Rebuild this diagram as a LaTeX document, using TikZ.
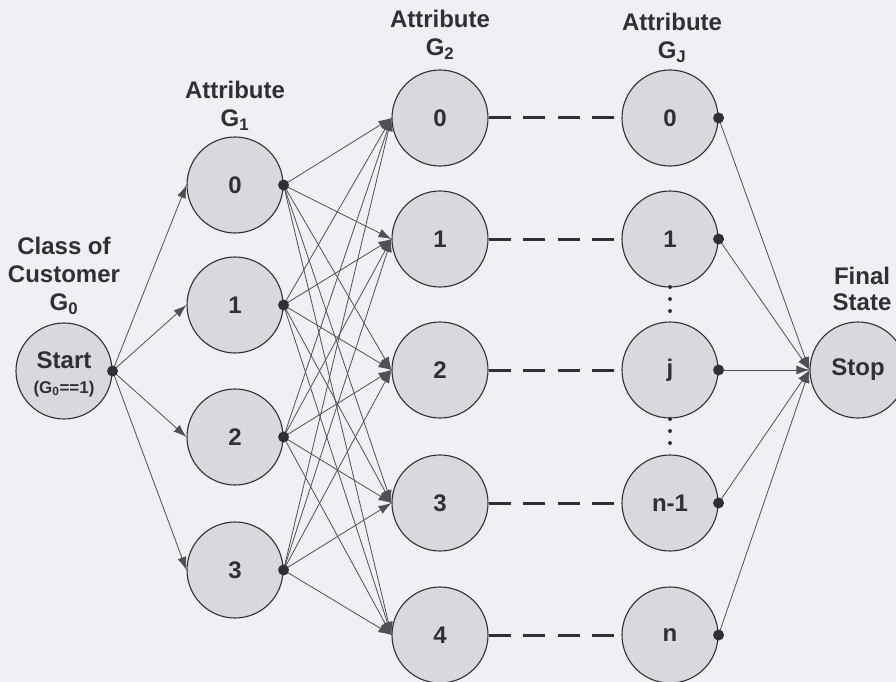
\documentclass[tikz,border=0pt]{standalone}
\usepackage{fontspec}
\setmainfont{Liberation Sans}
\usepackage{tikz}
\usetikzlibrary{arrows.meta}
\usetikzlibrary{positioning}
\definecolor{mback}{RGB}{238, 240, 244}
\definecolor{mfill}{RGB}{216, 217, 220}
\definecolor{mline}{RGB}{80, 80, 84}
\definecolor{mtext}{RGB}{48, 48, 52}
\tikzset{state/.style = {draw = mtext, line width = 1.1, fill = mfill, circle,
    inner sep = 0, minimum size = 96, text = mtext,
    font = \fontsize{24}{28}\selectfont\bfseries}}
\tikzset{circ/.style = {fill = mtext, circle, inner sep = 0, minimum size = 11}}
\tikzset{arr/.style = {draw = mline, line width = 0.8, -{Latex[length = 13, width = 9]}}}
\tikzset{link/.style = {draw = mtext, line width = 3, dash pattern = on 22 off 12.5}}
\tikzset{title/.style = {align = center, text = mtext, inner sep = 0,
    font = \fontsize{24}{28}\selectfont\bfseries}}

\begin{document}
\begin{tikzpicture}[x = 1pt, y = -1pt]
    \fill [mback] (0, 0) rectangle (896, 682);
    \useasboundingbox (0, 0) rectangle (896, 682);

    % start and stop
    \node [state] (start) at (64, 371) {};
    \node [text = mtext, font = \fontsize{24}{28}\selectfont\bfseries] (starttext) at (64, 360) {Start};
    \node [text = mtext, font = \fontsize{17}{20}\selectfont\bfseries] (startsub) at (64, 389) {(G\textsubscript{0}==1)};
    \node [state] (stop) at (858, 370) {Stop};

    % columns
    \foreach \i/\y in {0/185, 1/305, 2/437, 3/570} {
      \node [state] (a\i) at (235, \y) {\i};
    }
    \foreach \i/\y in {0/118, 1/239, 2/370, 3/503, 4/635} {
      \node [state] (b\i) at (440, \y) {\i};
    }
    \foreach \i/\t/\y in {0/0/118, 1/1/239, 2/j/370, 3/n-1/503, 4/n/635} {
      \node [state] (c\i) at (670, \y) {\t};
    }

    % edges
    \foreach \i in {0,...,3} {
      \draw [arr] (start.east) -- (a\i.west);
      \foreach \k in {0,...,4} {
        \draw [arr] (a\i.east) -- (b\k.west);
      }
    }
    \foreach \k in {0,...,4} {
      \draw [link] (b\k.east) -- (c\k.west);
      \draw [arr] (c\k.east) -- (stop.west);
    }

    % dots
    \node [circ] (startdot) at (start.east) {};
    \foreach \i in {0,...,3} {
      \node [circ] (adot\i) at (a\i.east) {};
    }
    \foreach \k in {0,...,4} {
      \node [circ] (cdot\k) at (c\k.east) {};
    }
    \foreach \y in {287, 299, 311, 419, 431, 443} {
      \fill [mtext] (670, \y) circle (2);
    }

    % titles
    \node [title] (t0) at (64, 276) {Class of\\Customer\\G\textsubscript{0}};
    \node [title] (t1) at (235, 106) {Attribute\\G\textsubscript{1}};
    \node [title] (t2) at (440, 35) {Attribute\\G\textsubscript{2}};
    \node [title] (t3) at (672, 38) {Attribute\\G\textsubscript{J}};
    \node [title, font = \fontsize{24}{26}\selectfont\bfseries] (t4) at (862, 289) {Final\\State};
  \end{tikzpicture}
\end{document}
